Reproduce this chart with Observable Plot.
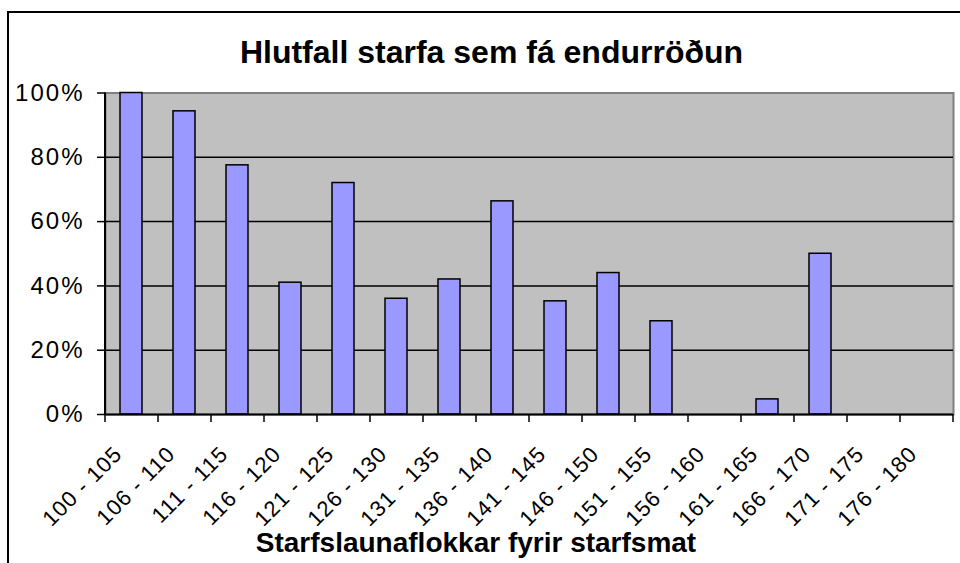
<!DOCTYPE html>
<html>
<head>
<meta charset="utf-8">
<script src="https://cdn.jsdelivr.net/npm/d3@7"></script>
<script src="https://cdn.jsdelivr.net/npm/@observablehq/plot@0.6"></script>
<style>
  body { margin: 0; background: #fff; }
  #wrap { position: relative; width: 960px; height: 563px; overflow: hidden; font-family: "Liberation Sans", Arial, sans-serif; background: #fff; }
  #frame { position: absolute; left: 7px; top: 11px; width: 1000px; height: 600px; border: 2px solid #000; box-sizing: border-box; }
  #chart { position: absolute; left: 0; top: 0; }
  #title { position: absolute; left: 0; width: 983px; top: 36px; text-align: center; font-weight: bold; font-size: 32px; line-height: 32px; white-space: nowrap; color: #000; }
  #xtitle { position: absolute; left: 0; width: 952px; top: 529px; text-align: center; font-weight: bold; font-size: 28px; line-height: 28px; white-space: nowrap; color: #000; }
  g[aria-label="y-axis tick label"] text { letter-spacing: 2px; }
  g[aria-label="x-axis tick label"] text { letter-spacing: 1px; }
</style>
</head>
<body>
<div id="wrap">
  <div id="frame"></div>
  <div id="chart"></div>
  <div id="title">Hlutfall starfa sem fá endurröðun</div>
  <div id="xtitle">Starfslaunaflokkar fyrir starfsmat</div>
</div>
<script>
const categories = ["100 - 105", "106 - 110", "111 - 115", "116 - 120", "121 - 125", "126 - 130", "131 - 135", "136 - 140", "141 - 145", "146 - 150", "151 - 155", "156 - 160", "161 - 165", "166 - 170", "171 - 175", "176 - 180"];
const shares = [1.00, 0.943, 0.775, 0.41, 0.72, 0.36, 0.42, 0.663, 0.352, 0.44, 0.29, 0, 0.047, 0.50, 0, 0];
const yTicks = [0, 0.2, 0.4, 0.6, 0.8, 1.0];

const data = categories.map((c, i) => ({category: c, share: shares[i]}));
const halfStep = (953 - 105) / categories.length / 2;

const chart = Plot.plot({
  width: 960,
  height: 563,
  marginLeft: 105,
  marginRight: 7,
  marginTop: 92.5,
  marginBottom: 149,
  style: {fontFamily: "'Liberation Sans', Arial, sans-serif", background: "transparent", color: "#000", overflow: "visible"},
  x: {type: "band", domain: categories, paddingInner: 0.58, paddingOuter: 0.29, align: 0.5, axis: null, label: null},
  y: {domain: [0, 1], axis: null, label: null},
  marks: [
    Plot.frame({fill: "#C0C0C0", stroke: "#808080", strokeWidth: 2}),
    Plot.ruleY(yTicks.filter(d => d > 0 && d < 1), {stroke: "#000", strokeWidth: 1.5}),
    Plot.barY(data.filter(d => d.share > 0), {x: "category", y: "share", fill: "#9999FF", stroke: "#000", strokeWidth: 1.5}),
    Plot.ruleY([0], {stroke: "#000", strokeWidth: 2}),
    Plot.ruleX([categories[0]], {stroke: "#000", strokeWidth: 2, dx: -halfStep}),
    Plot.axisY({ticks: yTicks, tickFormat: d => Math.round(d * 100) + "%", tickSize: 8, tickPadding: 13, fontSize: 24, stroke: "#000", strokeWidth: 1.5, label: null}),
    Plot.axisX({tickSize: 8, tickFormat: () => "", dx: -halfStep, stroke: "#000", strokeWidth: 1.5, label: null}),
    Plot.axisX({ticks: [categories[categories.length - 1]], tickSize: 8, tickFormat: () => "", dx: halfStep, stroke: "#000", strokeWidth: 1.5, label: null}),
    Plot.axisX({tickSize: 0, tickPadding: 36, tickRotate: -45, textAnchor: "end", lineAnchor: "middle", fontSize: 22, dx: -13, label: null})
  ]
});
document.getElementById("chart").appendChild(chart);
</script>
</body>
</html>
